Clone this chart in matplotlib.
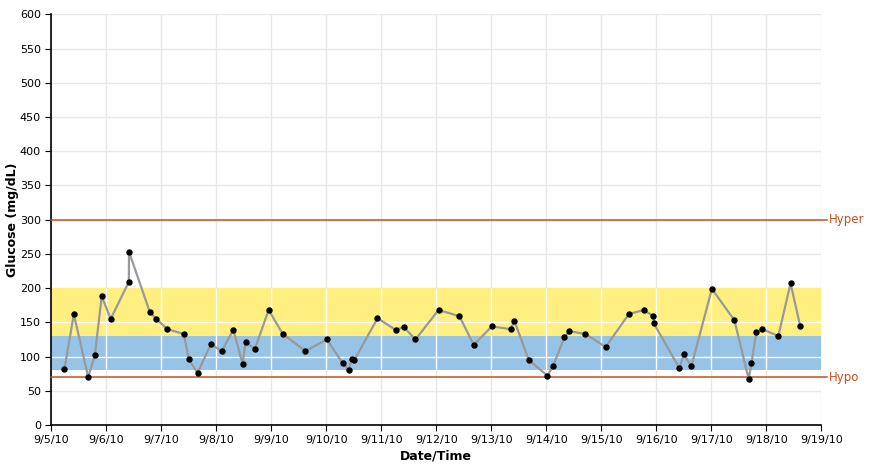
import matplotlib
matplotlib.use("Agg")
import matplotlib.pyplot as plt
import matplotlib.dates as mdates
from matplotlib.ticker import FuncFormatter, MultipleLocator
from datetime import datetime, timedelta

# readings (date/time, mg/dL)
times = [
    "2010-09-05 05:45", "2010-09-05 09:50", "2010-09-05 16:05", "2010-09-05 19:00",
    "2010-09-05 22:00", "2010-09-06 01:55", "2010-09-06 09:50", "2010-09-06 09:55",
    "2010-09-06 19:00", "2010-09-06 21:50", "2010-09-07 02:40", "2010-09-07 09:50",
    "2010-09-07 12:00", "2010-09-07 15:50", "2010-09-07 21:35", "2010-09-08 02:25",
    "2010-09-08 07:25", "2010-09-08 11:30", "2010-09-08 12:45", "2010-09-08 16:50",
    "2010-09-08 22:50", "2010-09-09 05:00", "2010-09-09 14:55", "2010-09-10 00:15",
    "2010-09-10 07:10", "2010-09-10 09:50", "2010-09-10 11:00", "2010-09-10 12:15",
    "2010-09-10 22:20", "2010-09-11 06:15", "2010-09-11 09:50", "2010-09-11 14:55",
    "2010-09-12 01:00", "2010-09-12 10:05", "2010-09-12 16:20", "2010-09-13 00:15",
    "2010-09-13 08:25", "2010-09-13 10:05", "2010-09-13 16:20", "2010-09-14 00:30",
    "2010-09-14 02:55", "2010-09-14 07:55", "2010-09-14 10:05", "2010-09-14 17:00",
    "2010-09-15 01:55", "2010-09-15 12:00", "2010-09-15 18:30", "2010-09-15 22:45",
    "2010-09-15 22:50", "2010-09-16 10:05", "2010-09-16 12:00", "2010-09-16 15:20",
    "2010-09-17 00:15", "2010-09-17 10:05", "2010-09-17 16:20", "2010-09-17 17:30",
    "2010-09-17 19:40", "2010-09-17 22:20", "2010-09-18 05:15", "2010-09-18 10:35",
    "2010-09-18 14:50",
]
glucose = [
    82, 162, 70, 102, 188, 155, 209, 253, 165, 155, 140, 133, 96, 76, 118, 108,
    139, 89, 121, 111, 168, 133, 108, 125, 90, 81, 96, 95, 156, 139, 143, 125,
    168, 159, 117, 144, 140, 152, 95, 72, 86, 128, 137, 133, 114, 162, 168, 159,
    149, 83, 103, 86, 199, 153, 67, 90, 136, 140, 130, 207, 144,
]

hyper = 300
hypo = 70
bands = [(130, 200, "#FFEF80"), (80, 130, "#97C4E6")]

x_start = datetime(2010, 9, 5)
x_end = datetime(2010, 9, 19)

dates = [datetime.strptime(t, "%Y-%m-%d %H:%M") for t in times]

fig = plt.figure(figsize=(8.71, 4.66), dpi=100)
ax = fig.add_axes([51.3 / 871, 1 - 425 / 466, 770 / 871, (425 - 14.3) / 466])

ax.set_xlim(x_start, x_end)
ax.set_ylim(0, 600)
ax.xaxis.set_major_locator(mdates.DayLocator())
ax.xaxis.set_major_formatter(FuncFormatter(
    lambda v, pos: (lambda d: f"{d.month}/{d.day}/{d.year % 100:02d}")(mdates.num2date(v))))
ax.yaxis.set_major_locator(MultipleLocator(50))

ax.grid(True, color="#e8e8e8", lw=1, zorder=0)
ax.set_axisbelow(True)

# target bands
for lo, hi, c in bands:
    ax.axhspan(lo, hi, color=c, lw=0, zorder=1)
# grid shows white through the bands
xt = [x_start + timedelta(days=i) for i in range(1, 14)]
ax.vlines(xt, 80, 200, color="white", lw=1, zorder=2)
ax.hlines([100, 150], x_start, x_end, color="white", lw=1, zorder=2)

# limit lines, extended a bit past the plot
for val, name in [(hyper, "Hyper"), (hypo, "Hypo")]:
    ax.plot([x_start, x_end + timedelta(hours=2.5)], [val, val], color="#C0531F",
            lw=1.1, zorder=3, clip_on=False)
    ax.text(x_end + timedelta(hours=3.3), val, name, color="#C0531F",
            fontsize=8.5, va="center", ha="left")

ax.plot(dates, glucose, color="#999999", lw=1.6, zorder=4)
ax.plot(dates, glucose, "o", color="black", ms=3.6, zorder=5)

for s in ["top", "right"]:
    ax.spines[s].set_visible(False)
for s in ["left", "bottom"]:
    ax.spines[s].set_color("black")
    ax.spines[s].set_linewidth(1.2)
ax.tick_params(direction="out", length=4, labelsize=8, colors="black")

ax.set_xlabel("Date/Time", fontsize=9, fontweight="bold", labelpad=3)
ax.set_ylabel("Glucose (mg/dL)", fontsize=9, fontweight="bold", va="center")
ax.yaxis.set_label_coords(-0.05, 0.5)

fig.savefig("out.png", dpi=100)
